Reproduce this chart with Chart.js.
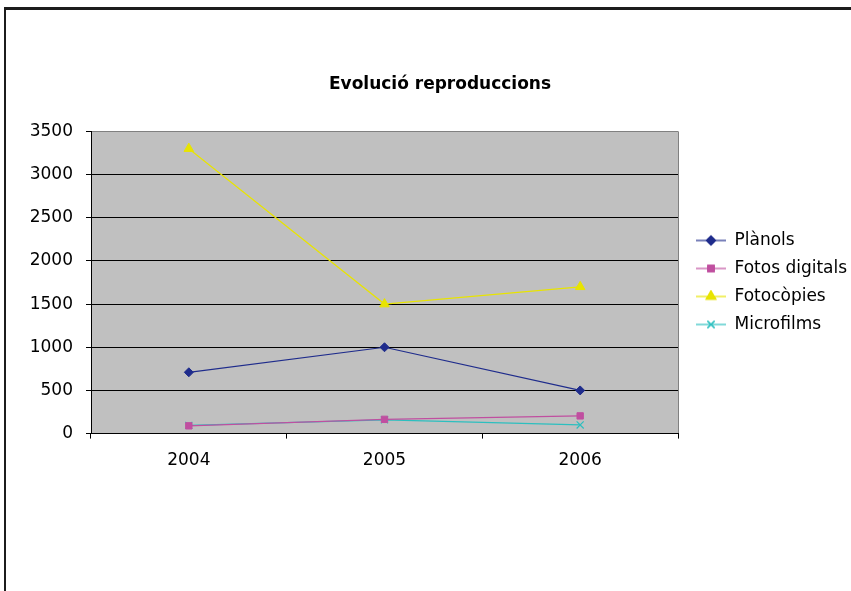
<!DOCTYPE html>
<html>
<head>
<meta charset="utf-8">
<script src="https://cdn.jsdelivr.net/npm/chart.js@4.4.0/dist/chart.umd.min.js"></script>
<style>
  body { margin: 0; background: #fff; overflow: hidden; }
  #wrap { position: relative; width: 851px; height: 591px; }
  #frame {
    position: absolute; left: 4px; top: 7px; width: 900px; height: 700px;
    border-top: 3px solid #1c1c1c; border-left: 2px solid #1c1c1c;
  }
  #chart { position: absolute; left: 0; top: 0; }
</style>
</head>
<body>
<div id="wrap">
  <div id="frame"></div>
  <canvas id="chart" width="851" height="591"></canvas>
</div>
<script>
var years = ["2004", "2005", "2006"];
var planols = [710, 1000, 500];
var fotosDigitals = [90, 165, 205];
var fotocopies = [3300, 1500, 1700];
var microfilms = [95, 160, 100];

var seriesNames = ["Plànols", "Fotos digitals", "Fotocòpies", "Microfilms"];
var seriesColors = ["#1f2c8c", "#c04fa0", "#e8e400", "#2cbfbf"];
var seriesMarkers = ["rectRot", "rect", "triangle", "crossRot"];
var markerSizes = [4.5, 4.5, 5.5, 5];

var font = "'DejaVu Sans', Verdana, sans-serif";

// small line + marker picture for the legend
function legendSymbol(color, marker, size) {
  var c = document.createElement("canvas");
  c.width = 37;
  c.height = 14;
  var ctx = c.getContext("2d");
  ctx.strokeStyle = color;
  ctx.lineWidth = 1.2;
  ctx.beginPath();
  ctx.moveTo(7, 7);
  ctx.lineTo(37, 7);
  ctx.stroke();
  Chart.helpers.drawPoint(ctx, {
    pointStyle: marker,
    radius: size,
    borderWidth: marker === "crossRot" ? 1.2 : 1,
    rotation: 0
  }, 22, 7);
  ctx.fillStyle = color;
  if (marker !== "crossRot") ctx.fill();
  ctx.stroke();
  return c;
}

var plotBackground = {
  id: "plotBackground",
  beforeDraw: function (chart) {
    var a = chart.chartArea;
    var ctx = chart.ctx;
    ctx.save();
    ctx.fillStyle = "#c0c0c0";
    ctx.fillRect(a.left, a.top, a.right - a.left, a.bottom - a.top);
    ctx.strokeStyle = "#808080";
    ctx.lineWidth = 1;
    ctx.beginPath();
    ctx.moveTo(a.right + 0.5, a.top);
    ctx.lineTo(a.right + 0.5, a.bottom);
    ctx.stroke();
    ctx.restore();
  }
};

var allSeries = [planols, fotosDigitals, fotocopies, microfilms];
var datasets = allSeries.map(function (values, i) {
  return {
    label: seriesNames[i],
    data: values,
    borderColor: seriesColors[i],
    backgroundColor: seriesColors[i],
    borderWidth: 1.2,
    pointStyle: seriesMarkers[i],
    pointRadius: markerSizes[i],
    pointBorderWidth: i === 3 ? 1.2 : 1,
    tension: 0
  };
});

var chart = new Chart(document.getElementById("chart"), {
  type: "line",
  data: { labels: years, datasets: datasets },
  options: {
    responsive: false,
    animation: false,
    layout: { padding: { left: 29, right: 0, top: 0, bottom: 108 } },
    scales: {
      x: {
        offset: true,
        grid: {
          offset: true,
          drawOnChartArea: false,
          tickLength: 5,
          tickColor: "#000"
        },
        border: { color: "#000", width: 1 },
        ticks: { color: "#000", padding: 12, font: { family: font, size: 17 } }
      },
      y: {
        min: 0,
        max: 3500,
        ticks: {
          stepSize: 500,
          color: "#000",
          padding: 13,
          font: { family: font, size: 17 },
          callback: function (value) {
            return String(value);
          }
        },
        grid: {
          color: function (c) {
            return c.tick && c.tick.value === 3500 ? "#808080" : "#000";
          },
          tickColor: "#000",
          tickLength: 5,
          lineWidth: 1
        },
        border: { color: "#000", width: 1 },
        afterFit: function (scale) {
          scale.width = 62;
        }
      }
    },
    plugins: {
      title: {
        display: true,
        text: "Evolució reproduccions",
        color: "#000",
        font: { family: font, size: 17, weight: "bold" },
        padding: { top: 74, bottom: 37 }
      },
      legend: {
        position: "right",
        fullSize: false,
        maxWidth: 173,
        labels: {
          usePointStyle: true,
          pointStyleWidth: 37,
          padding: 11,
          color: "#000",
          font: { family: font, size: 17 },
          generateLabels: function (chart) {
            return chart.data.datasets.map(function (ds, i) {
              return {
                text: ds.label,
                pointStyle: legendSymbol(seriesColors[i], seriesMarkers[i], markerSizes[i]),
                fontColor: "#000",
                hidden: false,
                datasetIndex: i,
                lineWidth: 0
              };
            });
          }
        }
      },
      tooltip: { enabled: false }
    }
  },
  plugins: [plotBackground]
});
</script>
</body>
</html>
